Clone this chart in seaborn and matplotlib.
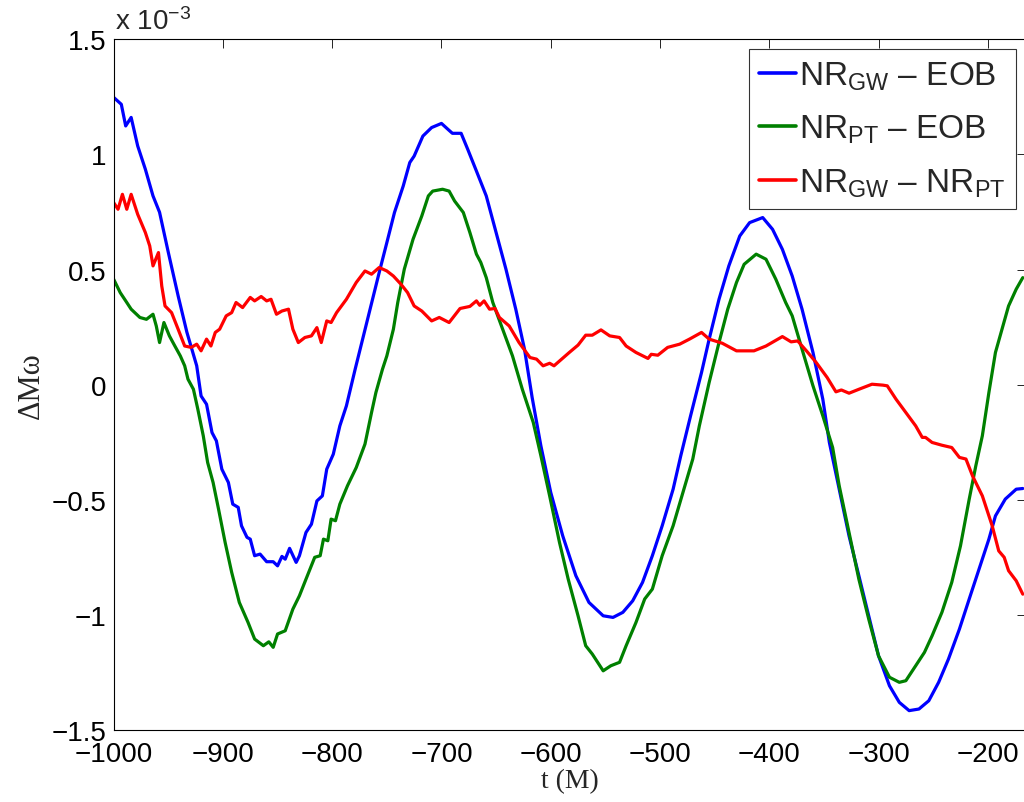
import numpy as np
import pandas as pd
import matplotlib
matplotlib.use("Agg")
import matplotlib.pyplot as plt
import seaborn as sns

# ---- data (delta M omega in units of 1e-3) ----
t_gw_eob = [-1000, -993, -989, -984, -978, -971, -964, -958, -950, -941, -933, -924, -920, -915, -910, -906,
            -901, -895, -891, -886, -883, -878, -875, -871, -866, -860, -854, -850, -846, -843, -839, -833,
            -830, -824, -819, -814, -809, -805, -799, -793, -787, -779, -757, -750, -743, -735, -729, -725,
            -717, -709, -700, -694, -690, -682, -676, -668, -659, -650, -641, -632, -624, -617, -609, -600,
            -589, -577, -565, -552, -543, -534, -525, -516, -507, -498, -488, -481, -472, -462, -455, -446,
            -437, -427, -418, -406, -397, -388, -379, -370, -360, -351, -345, -336, -327, -318, -309, -300,
            -290, -281, -272, -263, -254, -245, -236, -226, -217, -208, -199, -193, -184, -174, -168]
y_gw_eob = [1.248, 1.218, 1.124, 1.161, 1.037, 0.936, 0.820, 0.749, 0.575, 0.386, 0.228, 0.082, -0.049, -0.085,
            -0.208, -0.244, -0.367, -0.425, -0.519, -0.533, -0.613, -0.663, -0.671, -0.743, -0.736, -0.769,
            -0.769, -0.787, -0.746, -0.758, -0.711, -0.772, -0.743, -0.642, -0.606, -0.505, -0.483, -0.367,
            -0.302, -0.179, -0.092, 0.067, 0.487, 0.617, 0.748, 0.863, 0.965, 0.993, 1.080, 1.117, 1.135,
            1.109, 1.092, 1.092, 1.023, 0.928, 0.820, 0.661, 0.502, 0.328, 0.154, -0.056, -0.266, -0.468,
            -0.657, -0.830, -0.946, -1.004, -1.011, -0.989, -0.939, -0.859, -0.743, -0.613, -0.454, -0.309,
            -0.135, 0.053, 0.198, 0.371, 0.516, 0.646, 0.704, 0.726, 0.675, 0.588, 0.472, 0.328, 0.140,
            -0.063, -0.251, -0.454, -0.657, -0.830, -1.004, -1.178, -1.308, -1.380, -1.416, -1.409, -1.373,
            -1.293, -1.192, -1.062, -0.931, -0.801, -0.671, -0.570, -0.497, -0.454, -0.451]

t_pt_eob = [-1000, -994, -988, -984, -976, -970, -964, -961, -958, -954, -949, -944, -939, -935, -932, -927,
            -923, -918, -914, -909, -904, -898, -892, -885, -877, -871, -863, -858, -854, -850, -843, -836,
            -830, -824, -816, -811, -808, -804, -801, -797, -793, -786, -778, -770, -764, -760, -754, -750,
            -744, -740, -734, -726, -718, -712, -708, -699, -693, -688, -680, -674, -668, -664, -659, -653,
            -644, -635, -626, -616, -609, -601, -592, -584, -575, -568, -562, -552, -545, -537, -531, -522,
            -514, -507, -498, -488, -479, -470, -464, -455, -446, -438, -430, -423, -412, -403, -394, -385,
            -379, -370, -360, -351, -342, -336, -327, -318, -309, -300, -290, -281, -275, -266, -258, -251,
            -242, -233, -225, -217, -211, -205, -199, -193, -187, -181, -174, -168]
y_pt_eob = [0.458, 0.400, 0.357, 0.328, 0.292, 0.284, 0.306, 0.255, 0.183, 0.270, 0.212, 0.168, 0.125, 0.082,
            0.024, -0.020, -0.106, -0.222, -0.338, -0.425, -0.541, -0.685, -0.815, -0.946, -1.033, -1.105,
            -1.134, -1.117, -1.141, -1.083, -1.069, -0.975, -0.917, -0.845, -0.750, -0.743, -0.671, -0.678,
            -0.584, -0.591, -0.519, -0.439, -0.360, -0.258, -0.121, -0.034, 0.067, 0.125, 0.241, 0.357,
            0.502, 0.632, 0.733, 0.820, 0.841, 0.849, 0.841, 0.798, 0.748, 0.661, 0.567, 0.531, 0.465,
            0.357, 0.241, 0.125, -0.020, -0.164, -0.309, -0.483, -0.685, -0.845, -1.004, -1.134, -1.170,
            -1.243, -1.221, -1.206, -1.134, -1.033, -0.931, -0.888, -0.743, -0.613, -0.468, -0.323, -0.179,
            0.010, 0.183, 0.328, 0.444, 0.523, 0.567, 0.545, 0.458, 0.357, 0.299, 0.154, -0.005, -0.135,
            -0.273, -0.439, -0.642, -0.845, -1.018, -1.178, -1.271, -1.293, -1.286, -1.221, -1.163, -1.091,
            -0.989, -0.859, -0.700, -0.497, -0.353, -0.222, -0.034, 0.140, 0.241, 0.342, 0.415, 0.465]

t_gw_pt = [-1000, -996, -992, -988, -984, -978, -971, -967, -964, -959, -956, -953, -947, -941, -935, -929,
           -924, -920, -915, -911, -907, -903, -897, -892, -888, -882, -875, -871, -865, -860, -856, -851,
           -846, -840, -836, -831, -825, -819, -814, -810, -805, -801, -796, -787, -778, -770, -764, -757,
           -750, -744, -737, -731, -725, -718, -709, -702, -693, -683, -674, -668, -665, -661, -656, -651,
           -647, -638, -629, -619, -613, -607, -601, -597, -590, -583, -575, -568, -562, -554, -546, -537,
           -531, -522, -511, -508, -502, -493, -482, -473, -462, -455, -443, -430, -421, -414, -403, -388,
           -380, -374, -366, -357, -347, -339, -334, -327, -318, -306, -296, -292, -284, -275, -266, -260,
           -257, -251, -242, -233, -226, -220, -214, -205, -196, -190, -185, -181, -174, -168]
y_gw_pt = [0.791, 0.762, 0.827, 0.762, 0.827, 0.740, 0.661, 0.603, 0.516, 0.574, 0.429, 0.342, 0.313, 0.241,
           0.168, 0.162, 0.176, 0.147, 0.198, 0.168, 0.227, 0.241, 0.299, 0.313, 0.357, 0.335, 0.379, 0.364,
           0.383, 0.364, 0.371, 0.306, 0.320, 0.328, 0.241, 0.183, 0.205, 0.212, 0.248, 0.183, 0.277, 0.270,
           0.313, 0.371, 0.444, 0.494, 0.480, 0.509, 0.494, 0.472, 0.436, 0.400, 0.342, 0.320, 0.277, 0.292,
           0.270, 0.331, 0.340, 0.364, 0.345, 0.364, 0.328, 0.331, 0.292, 0.255, 0.183, 0.118, 0.111, 0.082,
           0.093, 0.082, 0.111, 0.140, 0.172, 0.215, 0.215, 0.238, 0.212, 0.205, 0.168, 0.140, 0.114, 0.132,
           0.128, 0.162, 0.176, 0.198, 0.227, 0.198, 0.180, 0.147, 0.147, 0.147, 0.168, 0.209, 0.186, 0.190,
           0.147, 0.096, 0.031, -0.031, -0.023, -0.037, -0.020, 0.002, -0.002, -0.005, -0.063, -0.121,
           -0.179, -0.229, -0.229, -0.251, -0.263, -0.273, -0.316, -0.323, -0.396, -0.483, -0.613, -0.722,
           -0.750, -0.808, -0.852, -0.910]

series_labels = [r"NR$_{\mathrm{GW}}$ – EOB", r"NR$_{\mathrm{PT}}$ – EOB", r"NR$_{\mathrm{GW}}$ – NR$_{\mathrm{PT}}$"]
series_colors = ["#0000ff", "#008000", "#ff0000"]
x_ticks = [-1000, -900, -800, -700, -600, -500, -400, -300, -200]
y_ticks = [-1.5, -1.0, -0.5, 0.0, 0.5, 1.0, 1.5]
y_tick_labels = ["\u22121.5", "\u22121", "\u22120.5", "0", "0.5", "1", "1.5"]

frames = []
for lab, tt, yy in zip(series_labels, [t_gw_eob, t_pt_eob, t_gw_pt], [y_gw_eob, y_pt_eob, y_gw_pt]):
    frames.append(pd.DataFrame({"t": tt, "dMw": np.array(yy) * 1e-3, "series": lab}))
df = pd.concat(frames, ignore_index=True)

sns.set_style("white")
plt.rcParams["font.family"] = ["Liberation Sans", "DejaVu Sans"]
plt.rcParams["mathtext.fontset"] = "custom"
plt.rcParams["mathtext.rm"] = "Liberation Sans"
plt.rcParams["mathtext.it"] = "Liberation Sans:italic"
plt.rcParams["mathtext.bf"] = "Liberation Sans:bold"

fig = plt.figure(figsize=(10.24, 8.03), dpi=100)
ax = fig.add_axes([0.111, 0.0897, 0.891, 0.860])

sns.lineplot(data=df, x="t", y="dMw", hue="series", hue_order=series_labels,
             palette=dict(zip(series_labels, series_colors)), estimator=None, sort=False,
             linewidth=2.3, ax=ax)

ax.set_xlim(-1000, -165)
ax.set_ylim(-1.5e-3, 1.5e-3)
ax.set_xticks(x_ticks)
ax.set_xticklabels([f"\u2212{abs(v)}" for v in x_ticks])
ax.set_yticks([v * 1e-3 for v in y_ticks])
ax.set_yticklabels(y_tick_labels)
ax.tick_params(axis="both", direction="in", length=6.5, width=0.6, top=True, right=True,
               labelsize=20, colors="black", pad=5)
ax.tick_params(axis="x", pad=8)
for s in ax.spines.values():
    s.set_visible(True)
    s.set_color("black")
    s.set_linewidth(0.8)

ax.set_xlabel("t (M)", fontsize=20, family=["Liberation Serif", "DejaVu Serif"], labelpad=1)
ax.set_ylabel("\u0394M\u03c9", fontsize=22, family=["Liberation Serif", "DejaVu Serif"], labelpad=4)

ax.annotate(r"x 10$^{-3}$", xy=(0, 1), xycoords="axes fraction", xytext=(1, 3),
            textcoords="offset points", fontsize=20, ha="left", va="bottom")

leg = ax.legend(loc="upper right", fontsize=24, frameon=True, fancybox=False, handlelength=1.1,
                handletextpad=0.1, borderaxespad=0.3, labelspacing=0.63, borderpad=0.3, title=None)
leg.get_frame().set_edgecolor("black")
leg.get_frame().set_linewidth(0.8)
for line in leg.get_lines():
    line.set_linewidth(2.6)

fig.savefig("out.png", dpi=100)
